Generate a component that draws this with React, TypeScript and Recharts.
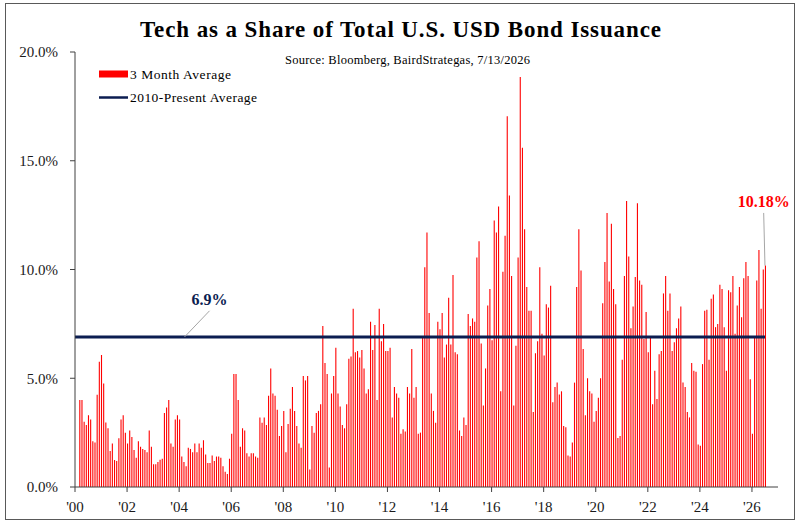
import React from 'react';
import { ComposedChart, Bar, XAxis, YAxis, ReferenceLine, ReferenceDot } from 'recharts';

// months are counted from Jan 2000; first 3-month average is Mar 2000
const firstMonth = 2;

// Tech share of total USD bond issuance, 3 month average (%)
const share2000s = [
  4.0, 4.0, 3.0, 2.85, 3.3, 3.1, 2.1, 2.05, 4.24, 5.76,
  6.07, 4.76, 2.96, 2.7, 1.66, 2.0, 1.24, 1.2, 2.24, 3.1,
  3.3, 2.5, 2.0, 2.6, 2.3, 1.7, 1.35, 2.1, 1.85, 1.75,
  1.7, 1.6, 2.6, 1.85, 1.05, 1.05, 1.15, 1.25, 1.3, 3.4,
  3.65, 4.0, 2.0, 1.85, 3.1, 3.3, 3.1, 1.4, 1.15, 0.95,
  1.8, 1.75, 1.6, 2.0, 1.6, 2.0, 1.8, 2.15, 1.5, 1.1,
  1.1, 1.45, 1.2, 1.4, 1.4, 1.35, 0.95, 0.7, 0.6, 1.3,
  2.45, 5.2, 5.2, 4.0, 1.85, 2.7, 2.6, 1.55, 1.4, 1.55,
  1.55, 1.4, 1.35, 3.2, 2.95, 3.2, 2.85, 4.2, 5.45, 4.3,
  4.2, 3.55, 2.35, 2.8, 3.5, 1.6, 2.9, 3.6, 4.6, 3.5,
  2.8, 2.0, 1.8, 5.1, 4.9, 5.1, 0.8, 2.8, 2.5, 3.4,
  3.5, 3.8, 7.4, 5.7, 5.2, 0.9, 4.3, 5.1,
];

const share2010s = [
  6.4, 4.3, 3.7, 2.85, 2.7, 3.8, 5.9, 6.0, 8.2, 6.2,
  6.25, 5.95, 6.3, 5.45, 4.3, 4.5, 7.6, 6.3, 7.45, 4.0,
  8.2, 6.7, 7.5, 6.25, 6.25, 6.4, 3.2, 4.6, 4.3, 4.1,
  2.45, 2.65, 2.55, 4.6, 4.3, 6.35, 4.1, 4.6, 2.45, 2.5,
  6.9, 10.1, 11.7, 8.0, 4.3, 3.5, 2.95, 7.6, 7.25, 8.0,
  5.95, 6.55, 8.7, 6.55, 9.75, 6.2, 6.1, 2.6, 2.35, 3.2,
  2.85, 7.95, 7.4, 7.75, 7.6, 10.55, 11.3, 6.6, 3.75, 5.45,
  8.35, 9.1, 6.75, 12.25, 11.7, 12.9, 4.4, 9.9, 11.55, 17.05,
  13.4, 9.7, 3.75, 6.5, 10.55, 18.85, 15.6, 11.85, 9.2, 8.1,
  8.1, 3.45, 6.15, 6.7, 10.1, 7.05, 6.05, 8.4, 8.25, 9.25,
  3.9, 4.6, 4.8, 4.25, 4.4, 2.8, 2.75, 1.45, 1.4, 2.05,
  4.8, 9.2, 11.85, 9.95, 6.35, 3.3, 5.0, 4.4, 4.3, 3.0,
];

const share2020s = [
  3.5, 4.1, 5.0, 8.45, 10.35, 12.6, 9.45, 12.1, 9.1, 8.4,
  2.25, 2.35, 5.85, 9.7, 13.15, 10.6, 7.3, 8.3, 9.65, 13.05,
  9.5, 9.3, 6.8, 8.05, 6.2, 6.85, 3.8, 5.35, 4.05, 6.1,
  6.25, 8.9, 9.7, 8.1, 8.9, 6.25, 6.65, 7.3, 7.75, 8.3,
  4.8, 4.6, 3.45, 3.2, 5.7, 5.35, 5.3, 1.95, 1.9, 5.65,
  8.1, 8.15, 5.85, 8.65, 8.85, 7.35, 7.5, 9.3, 9.1, 7.35,
  5.35, 9.05, 8.95, 9.7, 7.05, 8.35, 9.2, 7.8, 9.6, 10.35,
  9.7, 4.95, 2.45, 6.9, 9.5, 10.9, 8.2, 10.0, 10.18,
];

const presentAverage = 6.9;
const yTicks = [0, 5, 10, 15, 20];
const xTickLabels = ["'00", "'02", "'04", "'06", "'08", "'10", "'12", "'14", "'16", "'18", "'20", "'22", "'24", "'26"];

const shareValues = [...share2000s, ...share2010s, ...share2020s];
const chartData = shareValues.map((share, i) => ({ month: firstMonth + i, share }));
const lastPoint = chartData[chartData.length - 1];
const xTicks = xTickLabels.map((_, i) => i * 24);

const serif = '"Liberation Serif", "Times New Roman", serif';
const navy = '#0b1d51';
const axisColor = '#404040';

export default function App() {
  return (
    <div style={{ position: 'absolute', left: 0, top: 0, width: 796, height: 524, background: '#fff', fontFamily: serif }}>
      <div
        style={{
          position: 'absolute',
          left: 5,
          top: 3,
          width: 790,
          height: 517,
          boxSizing: 'border-box',
          border: '1px solid #595959',
        }}
      />
      <div style={{ position: 'absolute', left: 0, top: 0 }}>
        <ComposedChart width={796} height={524} data={chartData} margin={{ top: 52, right: 18, bottom: 0, left: 0 }}>
          <XAxis
            type="number"
            dataKey="month"
            domain={[0, 324]}
            ticks={xTicks}
            interval={0}
            tickFormatter={(v: number) => xTickLabels[Math.round(v / 24)]}
            height={37}
            tickSize={5}
            tickMargin={9}
            axisLine={{ stroke: axisColor }}
            tickLine={{ stroke: axisColor }}
            tick={{ fill: '#1a1a1a', fontSize: 15, fontFamily: serif }}
          />
          <YAxis
            domain={[0, 20]}
            ticks={yTicks}
            interval={0}
            tickFormatter={(v: number) => `${v.toFixed(1)}%`}
            width={75}
            tickSize={5}
            tickMargin={12}
            axisLine={{ stroke: axisColor }}
            tickLine={{ stroke: axisColor }}
            tick={{ fill: '#1a1a1a', fontSize: 15, fontFamily: serif }}
          />
          <Bar dataKey="share" fill="#ff0000" barSize={1.1} isAnimationActive={false} />
          <ReferenceLine
            segment={[
              { x: 0, y: presentAverage },
              { x: lastPoint.month, y: presentAverage },
            ]}
            stroke={navy}
            strokeWidth={3}
          />
          {/* callout for the average */}
          <ReferenceLine
            segment={[
              { x: 62, y: 8.1 },
              { x: 50.5, y: presentAverage },
            ]}
            stroke="#a6a6a6"
            strokeWidth={1}
          />
          <ReferenceDot
            x={62}
            y={8.1}
            r={0}
            stroke="none"
            label={{
              value: `${presentAverage}%`,
              position: 'top',
              offset: 6,
              fill: navy,
              fontSize: 16,
              fontWeight: 'bold',
              fontFamily: serif,
            }}
          />
          {/* callout for the latest value */}
          <ReferenceLine
            segment={[
              { x: 317.4, y: 12.6 },
              { x: lastPoint.month, y: lastPoint.share },
            ]}
            stroke="#a6a6a6"
            strokeWidth={1}
          />
          <ReferenceDot
            x={317.4}
            y={12.6}
            r={0}
            stroke="none"
            label={{
              value: `${lastPoint.share.toFixed(2)}%`,
              position: 'top',
              offset: 6,
              fill: '#ff0000',
              fontSize: 16,
              fontWeight: 'bold',
              fontFamily: serif,
            }}
          />
        </ComposedChart>
      </div>
      <svg width={796} height={524} style={{ position: 'absolute', left: 0, top: 0, pointerEvents: 'none' }}>
        <text x={140} y={37} textLength={521} lengthAdjust="spacing" fontSize={23} fontWeight="bold" fill="#000" fontFamily={serif}>
          Tech as a Share of Total U.S. USD Bond Issuance
        </text>
        <text x={285} y={64} textLength={245} lengthAdjust="spacing" fontSize={12.5} fill="#000" fontFamily={serif}>
          Source: Bloomberg, BairdStrategas, 7/13/2026
        </text>
        <rect x={99} y={70.5} width={29} height={7} fill="#ff0000" />
        <text x={130} y={78.5} textLength={101} lengthAdjust="spacing" fontSize={13.5} fill="#000" fontFamily={serif}>
          3 Month Average
        </text>
        <line x1={99} y1={97.5} x2={128} y2={97.5} stroke={navy} strokeWidth={2.5} />
        <text x={130} y={102} textLength={127} lengthAdjust="spacing" fontSize={13.5} fill="#000" fontFamily={serif}>
          2010-Present Average
        </text>
      </svg>
    </div>
  );
}
